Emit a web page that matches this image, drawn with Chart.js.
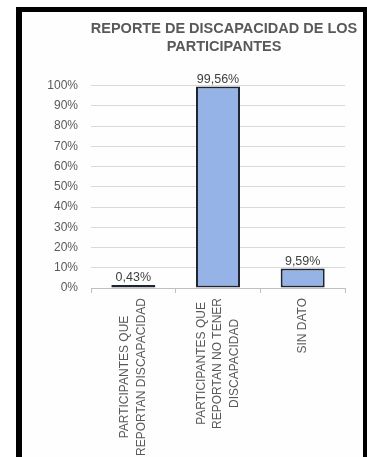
<!DOCTYPE html>
<html>
<head>
<meta charset="utf-8">
<script src="https://cdn.jsdelivr.net/npm/chart.js@4"></script>
<style>
  html, body { margin: 0; padding: 0; background: #ffffff; overflow: hidden; }
  body { width: 367px; height: 457px; position: relative; }
  #frame { position: absolute; left: 16px; top: 7px; width: 341px; height: 460px;
           border-left: 6px solid #000; border-top: 5px solid #000; border-right: 4px solid #000;
           background: #fefefe; }
  #c { position: absolute; left: 0; top: 0; }
</style>
</head>
<body>
<div id="frame"><canvas id="c" width="341" height="445"></canvas></div>
<script>
const titleLines = ["REPORTE DE DISCAPACIDAD DE LOS", "PARTICIPANTES"];
const categories = [
  ["PARTICIPANTES QUE", "REPORTAN DISCAPACIDAD"],
  ["PARTICIPANTES QUE", "REPORTAN NO TENER", "DISCAPACIDAD"],
  ["SIN DATO"]
];
const values = [0.43, 99.56, 9.59];
const valueLabels = ["0,43%", "99,56%", "9,59%"];
const yTickValues = [0, 10, 20, 30, 40, 50, 60, 70, 80, 90, 100];

const FONT = '"Liberation Sans", Arial, sans-serif';
Chart.defaults.font.family = FONT;

const titlePlugin = {
  id: 'titleText',
  afterDraw(chart) {
    const ctx = chart.ctx;
    ctx.save();
    ctx.font = 'bold 14.5px ' + FONT;
    ctx.fillStyle = '#595959';
    ctx.textAlign = 'center';
    ctx.textBaseline = 'alphabetic';
    const cx = (chart.chartArea.left + chart.chartArea.right) / 2 + 6;
    titleLines.forEach((t, i) => ctx.fillText(t, cx, 20.5 + i * 18));
    ctx.restore();
  }
};

const valuePlugin = {
  id: 'valueLabels',
  afterDatasetsDraw(chart) {
    const ctx = chart.ctx;
    const meta = chart.getDatasetMeta(0);
    ctx.save();
    ctx.font = '12.5px ' + FONT;
    ctx.fillStyle = '#404040';
    ctx.textAlign = 'center';
    ctx.textBaseline = 'alphabetic';
    meta.data.forEach((bar, i) => {
      const top = Math.min(bar.y, bar.base - 3);
      ctx.fillText(valueLabels[i], bar.x, top - 4);
    });
    ctx.restore();
  }
};

const catLabelPlugin = {
  id: 'catLabels',
  afterDraw(chart) {
    const ctx = chart.ctx;
    const xs = chart.scales.x;
    const y0 = chart.chartArea.bottom + 10;
    const lh = 16.5;
    ctx.save();
    ctx.font = '12px ' + FONT;
    ctx.fillStyle = '#595959';
    ctx.textAlign = 'center';
    ctx.textBaseline = 'middle';
    categories.forEach((lines, i) => {
      const x = xs.getPixelForValue(i);
      const maxW = Math.max(...lines.map(l => ctx.measureText(l).width));
      const yc = y0 + maxW / 2;
      ctx.save();
      ctx.translate(x, yc);
      ctx.rotate(-Math.PI / 2);
      lines.forEach((l, j) => {
        ctx.fillText(l, 0, (j - (lines.length - 1) / 2) * lh);
      });
      ctx.restore();
    });
    ctx.restore();
  }
};

function barFill(context) {
  const el = context.element;
  if (!el || el.x === undefined || el.width === undefined) return '#95B3E7';
  const half = el.width / 2;
  const g = context.chart.ctx.createLinearGradient(el.x - half, 0, el.x + half, 0);
  g.addColorStop(0, '#7f9bd0');
  g.addColorStop(0.12, '#a9c0ec');
  g.addColorStop(0.5, '#95B2E6');
  g.addColorStop(0.88, '#a9c0ec');
  g.addColorStop(1, '#7f9bd0');
  return g;
}

new Chart(document.getElementById('c'), {
  type: 'bar',
  data: {
    labels: categories,
    datasets: [{
      data: values,
      backgroundColor: barFill,
      borderColor: '#1f2530',
      borderWidth: 2,
      borderSkipped: false,
      minBarLength: 3,
      barPercentage: 0.52,
      categoryPercentage: 1.0
    }]
  },
  options: {
    responsive: false,
    animation: false,
    devicePixelRatio: 1,
    layout: { padding: { left: 0, top: 73.7, right: 18, bottom: 169 } },
    plugins: {
      legend: { display: false },
      title: { display: false },
      tooltip: { enabled: false }
    },
    scales: {
      x: {
        afterFit(s) { s.height = 0; },
        ticks: { display: false },
        grid: { display: true, drawOnChartArea: false, drawTicks: true, tickLength: 5, color: '#bfbfbf', offset: true },
        border: { display: true, color: '#bfbfbf', width: 1 }
      },
      y: {
        min: 0,
        max: 100,
        afterFit(s) { s.width = 69; },
        afterBuildTicks(s) { s.ticks = yTickValues.map(v => ({ value: v })); },
        ticks: {
          padding: 13,
          color: '#595959',
          font: { size: 12 },
          callback: v => v + '%'
        },
        grid: { color: '#d9d9d9', drawTicks: false, tickLength: 0 },
        border: { display: false }
      }
    }
  },
  plugins: [titlePlugin, valuePlugin, catLabelPlugin]
});
</script>
</body>
</html>
